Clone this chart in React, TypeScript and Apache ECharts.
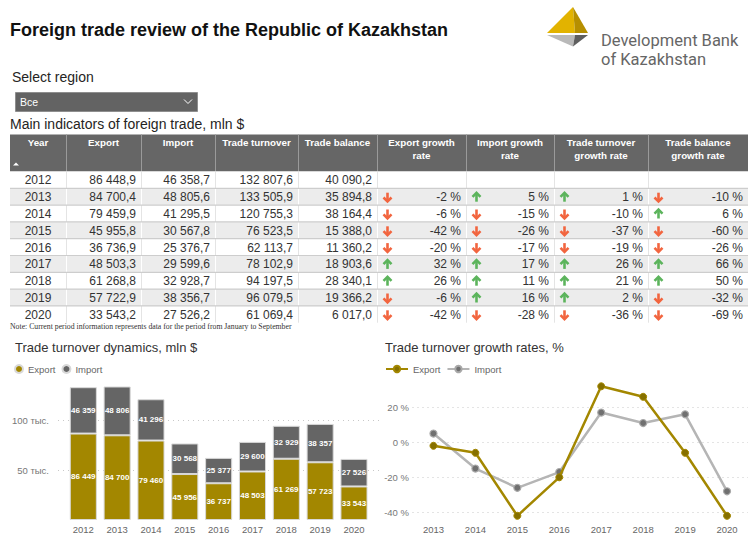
import React, { useEffect, useRef } from 'react';
import * as echarts from 'echarts';

const years = ['2012', '2013', '2014', '2015', '2016', '2017', '2018', '2019', '2020'];
const exportVals = [86448.9, 84700.4, 79459.9, 45955.8, 36736.9, 48503.3, 61268.8, 57722.9, 33543.2];
const importVals = [46358.7, 48805.6, 41295.5, 30567.8, 25376.7, 29599.6, 32928.7, 38356.7, 27526.2];
const turnoverVals = [132807.6, 133505.9, 120755.3, 76523.5, 62113.7, 78102.9, 94197.5, 96079.5, 61069.4];
const balanceVals = [40090.2, 35894.8, 38164.4, 15388.0, 11360.2, 18903.6, 28340.1, 19366.2, 6017.0];
const exportGrowth = [null, -2, -6, -42, -20, 32, 26, -6, -42];
const importGrowth = [null, 5, -15, -26, -17, 17, 11, 16, -28];
const turnoverGrowth = [null, 1, -10, -37, -19, 26, 21, 2, -36];
const balanceGrowth = [null, -10, 6, -60, -26, 66, 50, -32, -69];
const tableHeaders = [
  'Year', 'Export', 'Import', 'Trade turnover', 'Trade balance',
  'Export growth\nrate', 'Import growth\nrate', 'Trade turnover\ngrowth rate', 'Trade balance\ngrowth rate',
];
const barTicks = [50000, 100000];
const lineTicks = [-40, -20, 0, 20];

const FONT = '"Liberation Sans", Arial, sans-serif';
const GOLD = '#a38700';
const DARK = '#656565';

const groupDigits = (s: string) => s.replace(/\B(?=(\d{3})+(?!\d))/g, ' ');
const fmt1 = (v: number) => {
  const [i, d] = v.toFixed(1).split('.');
  return groupDigits(i) + ',' + d;
};
const fmt0 = (v: number) => groupDigits(String(Math.round(v)));

function buildGraphics() {
  const els: any[] = [];
  const txt = (text: string, x: number, y: number, o: any = {}) =>
    els.push({
      type: 'text',
      x, y,
      silent: true,
      style: {
        text,
        fontFamily: FONT,
        fontSize: 12,
        fill: '#333',
        textVerticalAlign: 'middle',
        textAlign: 'left',
        ...o,
      },
    });

  // Title
  txt('Foreign trade review of the Republic of Kazakhstan', 10, 30, { fontSize: 18, fontWeight: 'bold', fill: '#111' });

  // Logo
  els.push({ type: 'polygon', shape: { points: [[573, 7], [547, 33], [575, 33]] }, style: { fill: '#e2b300' } });
  els.push({ type: 'polygon', shape: { points: [[573, 7], [575, 33], [588, 33]] }, style: { fill: '#b68f00' } });
  els.push({ type: 'polygon', shape: { points: [[547, 35], [575, 35], [573, 46.5]] }, style: { fill: '#b9b9b9' } });
  els.push({ type: 'polygon', shape: { points: [[575, 35], [588, 35], [573, 46.5]] }, style: { fill: '#5e5e5e' } });
  txt('Development Bank', 601, 40, { fontFamily: 'Roboto, sans-serif', fontSize: 16.5, fill: '#666' });
  txt('of Kazakhstan', 601, 59, { fontFamily: 'Roboto, sans-serif', fontSize: 16.5, fill: '#666' });

  // Select region
  txt('Select region', 12, 77, { fontSize: 14, fill: '#252423' });
  els.push({ type: 'rect', shape: { x: 15.5, y: 92.5, width: 182, height: 19 }, style: { fill: '#636363', stroke: '#8e8e8e', lineWidth: 1 } });
  txt('Все', 20, 102, { fontSize: 10.5, fill: '#fff' });
  els.push({ type: 'polyline', shape: { points: [[184, 99.5], [188, 103.5], [192, 99.5]] }, style: { stroke: '#fff', lineWidth: 1, fill: null } });

  // Table title
  txt('Main indicators of foreign trade, mln $', 10, 124, { fontSize: 14, fill: '#252423' });

  // Table
  const colX = [10, 66, 141, 215, 298, 377, 466, 554, 648, 748];
  const hTop = 134.5, hBot = 171.5, rowH = 16.8;
  els.push({ type: 'rect', shape: { x: 10, y: hTop, width: 738, height: hBot - hTop }, style: { fill: '#666666' } });
  for (let c = 1; c < colX.length - 1; c++) {
    els.push({ type: 'line', shape: { x1: colX[c] + 0.5, y1: hTop, x2: colX[c] + 0.5, y2: hBot }, style: { stroke: '#9a9a9a', lineWidth: 1 } });
  }
  tableHeaders.forEach((h, c) => {
    const cx = (colX[c] + colX[c + 1]) / 2;
    h.split('\n').forEach((line, k) => {
      txt(line, cx, 142.5 + k * 13, { fontSize: 9.8, fontWeight: 'bold', fill: '#fff', textAlign: 'center' });
    });
  });
  els.push({ type: 'polygon', shape: { points: [[13, 165.5], [19, 165.5], [16, 162.5]] }, style: { fill: '#fff' } });

  const numCols = [exportVals, importVals, turnoverVals, balanceVals];
  const growthCols = [exportGrowth, importGrowth, turnoverGrowth, balanceGrowth];
  years.forEach((yr, i) => {
    const top = hBot + i * rowH;
    const gray = i % 2 === 1;
    els.push({ type: 'rect', shape: { x: 10, y: top, width: 738, height: rowH }, style: { fill: gray ? '#ececec' : '#ffffff' } });
    for (let c = 1; c < colX.length - 1; c++) {
      els.push({ type: 'line', shape: { x1: colX[c] + 0.5, y1: top, x2: colX[c] + 0.5, y2: top + rowH }, style: { stroke: gray ? '#ffffff' : '#e4e4e4', lineWidth: 1 } });
    }
    if (i > 0) {
      els.push({ type: 'line', shape: { x1: 10, y1: top, x2: 748, y2: top }, style: { stroke: '#cdcdcd', lineWidth: 1.2 } });
    }
    const cy = top + rowH / 2 + 0.5;
    txt(yr, (colX[0] + colX[1]) / 2, cy, { textAlign: 'center' });
    numCols.forEach((arr, k) => {
      txt(fmt1(arr[i]), colX[k + 2] - 5, cy, { textAlign: 'right' });
    });
    growthCols.forEach((arr, k) => {
      const v = arr[i];
      if (v === null) return;
      const left = colX[k + 5];
      const right = colX[k + 6];
      txt(`${v} %`, right - 5, cy, { textAlign: 'right' });
      const ax = left + 10.5;
      const up = v > 0;
      const color = up ? '#5cb45c' : '#f2653f';
      const d = up ? -1 : 1;
      els.push({ type: 'line', shape: { x1: ax, y1: cy - 4.5 * d, x2: ax, y2: cy + 4 * d }, style: { stroke: color, lineWidth: 2.6 } });
      els.push({
        type: 'polyline',
        shape: { points: [[ax - 4, cy + 0.3 * d], [ax, cy + 4.3 * d], [ax + 4, cy + 0.3 * d]] },
        style: { stroke: color, lineWidth: 2.6, fill: null, lineJoin: 'miter' },
      });
    });
  });

  txt('Note: Current period information represents data for the period from January to September', 10, 326.5, {
    fontFamily: '"Liberation Serif", "Times New Roman", serif', fontSize: 7.75, fill: '#333',
  });

  // Chart titles
  txt('Trade turnover dynamics, mln $', 15, 347.5, { fontSize: 13, fill: '#333' });
  txt('Trade turnover growth rates, %', 385, 347.5, { fontSize: 13, fill: '#333' });

  return els;
}

export default function App() {
  const ref = useRef<HTMLDivElement>(null);
  useEffect(() => {
    if (!ref.current) return;
    const chart = echarts.init(ref.current, undefined, { renderer: 'svg' });
    const growthYears = years.slice(1);
    const barLabel = {
      show: true, position: 'inside', color: '#fff', fontSize: 8, fontWeight: 'bold', fontFamily: FONT,
      formatter: (p: any) => fmt0(p.value),
    };
    const option: any = {
      animation: false,
      backgroundColor: '#ffffff',
      textStyle: { fontFamily: FONT },
      graphic: { elements: buildGraphics() },
      legend: [
        {
          left: 14, top: 364, padding: 0,
          itemWidth: 8, itemHeight: 8, itemGap: 6,
          textStyle: { fontSize: 9.5, color: '#666', fontFamily: FONT },
          data: [{ name: 'Export', icon: 'circle' }, { name: 'Import', icon: 'circle' }],
        },
        {
          left: 385, top: 364, padding: 0,
          itemWidth: 22, itemHeight: 8, itemGap: 6,
          textStyle: { fontSize: 9.5, color: '#666', fontFamily: FONT },
          formatter: (n: string) => n.split(' ')[0],
          data: ['Export growth', 'Import growth'],
        },
      ],
      grid: [
        { left: 66.4, right: 748 - 370.9, top: 380, bottom: 15 },
        { left: 58, right: 368, top: 380, bottom: 15 },
        { left: 412.5, right: -7.8, top: 382.8, bottom: 12.2 },
      ],
      xAxis: [
        {
          gridIndex: 0, type: 'category', data: years,
          axisLine: { show: false }, axisTick: { show: false },
          axisLabel: { color: '#666', fontSize: 9.5, margin: 4 },
        },
        { gridIndex: 1, type: 'value', show: false, min: 0, max: 1 },
        {
          gridIndex: 2, type: 'category', data: growthYears, boundaryGap: true,
          axisLine: { show: false }, axisTick: { show: false },
          axisLabel: { color: '#666', fontSize: 9.5, margin: 2 },
        },
      ],
      yAxis: [
        { gridIndex: 0, type: 'value', min: 0, max: 140000, show: false },
        {
          gridIndex: 1, type: 'value', min: 0, max: 140000,
          axisLine: { show: false },
          axisTick: { show: false, customValues: barTicks },
          axisLabel: {
            customValues: barTicks, color: '#777', fontSize: 9.5, margin: 9,
            formatter: (v: number) => `${v / 1000} тыс.`,
          },
          splitLine: { show: true, lineStyle: { type: [1, 4], color: '#c8c8c8', width: 1 } },
        },
        {
          gridIndex: 2, type: 'value', min: -46, max: 34,
          axisLine: { show: false },
          axisTick: { show: false, customValues: lineTicks },
          axisLabel: {
            customValues: lineTicks, color: '#777', fontSize: 9.5, margin: 3.5,
            formatter: (v: number) => `${v} %`,
          },
          splitLine: { show: true, lineStyle: { type: [1, 4], color: '#c8c8c8', width: 1 } },
        },
      ],
      series: [
        {
          name: 'Export', type: 'bar', stack: 'trade', xAxisIndex: 0, yAxisIndex: 0,
          data: exportVals, barCategoryGap: '20%',
          itemStyle: { color: GOLD, borderColor: '#d8d8d8', borderWidth: 1 },
          label: barLabel,
        },
        {
          name: 'Import', type: 'bar', stack: 'trade', xAxisIndex: 0, yAxisIndex: 0,
          data: importVals, barCategoryGap: '20%',
          itemStyle: { color: DARK, borderColor: '#d8d8d8', borderWidth: 1 },
          label: barLabel,
        },
        {
          name: 'Export growth', type: 'line', xAxisIndex: 2, yAxisIndex: 2,
          data: exportGrowth.slice(1),
          lineStyle: { color: GOLD, width: 2.5 },
          symbol: 'circle', symbolSize: 7,
          itemStyle: { color: '#867000', borderColor: GOLD, borderWidth: 1 },
          z: 3,
        },
        {
          name: 'Import growth', type: 'line', xAxisIndex: 2, yAxisIndex: 2,
          data: importGrowth.slice(1),
          lineStyle: { color: '#b5b5b5', width: 2.5 },
          symbol: 'circle', symbolSize: 7,
          itemStyle: { color: '#707070', borderColor: '#a8a8a8', borderWidth: 1.2 },
          z: 2,
        },
      ],
    };
    chart.setOption(option);
    return () => chart.dispose();
  }, []);
  return (
    <div
      ref={ref}
      style={{ position: 'fixed', left: 0, top: 0, width: 748, height: 535, background: '#fff' }}
    />
  );
}
